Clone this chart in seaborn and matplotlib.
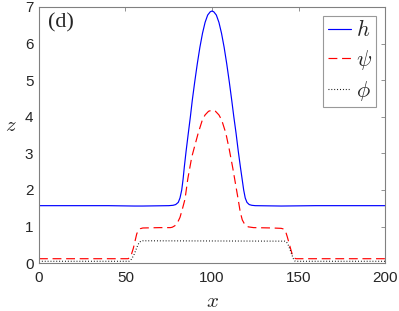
"""Profiles of h, psi and phi across the domain, panel (d)."""

import matplotlib

matplotlib.use("Agg")
from matplotlib import pyplot as plt
import seaborn as sns

# values
h_x = [0, 40, 55, 60, 75, 77.5, 79, 80.5, 81.5, 82.5, 83.3, 84, 85, 86.3,
       87.5, 88.6, 90, 91.5, 93, 94.5, 96, 97.5, 99, 100, 101, 102.5, 104,
       105.5, 107, 108.5, 110, 111.4, 112.6, 113.9, 115.2, 116.4, 117.4,
       118.3, 119.2, 120.2, 121.5, 123, 125, 140, 160, 200]
h_z = [1.57, 1.57, 1.56, 1.56, 1.57, 1.58, 1.60, 1.66, 1.78, 2.0, 2.3, 2.63,
       3.05, 3.55, 4.0, 4.45, 4.95, 5.45, 5.9, 6.28, 6.58, 6.78, 6.87, 6.89,
       6.87, 6.78, 6.58, 6.28, 5.9, 5.45, 4.95, 4.45, 4.0, 3.55, 3.05, 2.63,
       2.3, 2.0, 1.78, 1.66, 1.60, 1.58, 1.57, 1.56, 1.57, 1.57]

psi_x = [0, 51.5, 52.5, 53.5, 54.5, 55.5, 56.5, 57.5, 58.5, 60, 70, 76, 77,
         78.5, 80, 81.5, 83, 84.4, 86, 88.3, 90, 92, 94.4, 96, 98, 100, 102,
         104, 105.6, 108, 110, 112, 114, 115.2, 116.3, 117.5, 119, 121, 124,
         135, 140, 141.5, 142.5, 143.5, 144.5, 145.5, 146.5, 147.5, 148.5, 200]
psi_z = [0.12, 0.12, 0.15, 0.25, 0.4, 0.6, 0.8, 0.9, 0.94, 0.96, 0.97, 0.97,
         0.98, 1.02, 1.1, 1.25, 1.5, 1.75, 2.3, 2.9, 3.2, 3.55, 3.91, 4.05,
         4.15, 4.18, 4.15, 4.05, 3.91, 3.55, 3.1, 2.6, 2.05, 1.72, 1.4, 1.18,
         1.05, 0.99, 0.97, 0.96, 0.95, 0.93, 0.87, 0.72, 0.55, 0.38, 0.22,
         0.14, 0.12, 0.12]

phi_x = [0, 52, 53, 54, 55, 56, 57, 58, 59, 60, 142, 143, 144, 145, 146, 147,
         147.8, 148.5, 200]
phi_z = [0.05, 0.05, 0.08, 0.15, 0.24, 0.36, 0.48, 0.57, 0.6, 0.61, 0.6,
         0.58, 0.5, 0.38, 0.25, 0.12, 0.06, 0.05, 0.05]

x_ticks = [0, 50, 100, 150, 200]
z_ticks = [0, 1, 2, 3, 4, 5, 6, 7]

sns.set_theme(style="white")
plt.rcParams["font.family"] = ["Liberation Sans", "DejaVu Sans"]
plt.rcParams["mathtext.fontset"] = "cm"

fig = plt.figure(figsize=(3.99, 3.11), dpi=100)
ax = fig.add_axes([0.0977, 0.154, 0.8673, 0.8235])

sns.lineplot(x=h_x, y=h_z, color="#0000ff", linewidth=0.85, label="$h$",
             sort=False, ax=ax)
sns.lineplot(x=psi_x, y=psi_z, color="#ff0000", linewidth=0.85, label=r"$\psi$",
             sort=False, ax=ax)
sns.lineplot(x=phi_x, y=phi_z, color="#000000", linewidth=0.8, label=r"$\phi$",
             sort=False, ax=ax)
lines = ax.get_lines()
lines[1].set_dashes([7.5, 4])
lines[2].set_dashes([0.8, 1.8])

ax.set_xlim(0, 200)
ax.set_ylim(0, 7)
ax.set_xticks(x_ticks)
ax.set_yticks(z_ticks)
ax.tick_params(direction="in", length=3, width=0.6, color="#808080",
               top=True, right=True, labelsize=11, labelcolor="#262626", pad=4)
ax.tick_params(axis="x", pad=6)
for spine in ax.spines.values():
    spine.set_color("#808080")
    spine.set_linewidth(0.8)

ax.set_xlabel("$x$", fontsize=15, labelpad=5, color="#262626")
ax.set_ylabel("$z$", fontsize=15, rotation=0, color="#262626")
ax.yaxis.set_label_coords(-0.08, 0.5)

ax.text(0.027, 0.975, "(d)", transform=ax.transAxes, ha="left", va="top",
        fontsize=16, family="Liberation Serif")

leg = ax.legend(loc="upper right", fontsize=16, frameon=True, fancybox=False,
                handlelength=1.05, handletextpad=0.2, borderpad=0.2,
                labelspacing=0.3, borderaxespad=0.4, edgecolor="#808080")
leg.get_frame().set_linewidth(0.8)

plt.savefig("out.png", dpi=100)
